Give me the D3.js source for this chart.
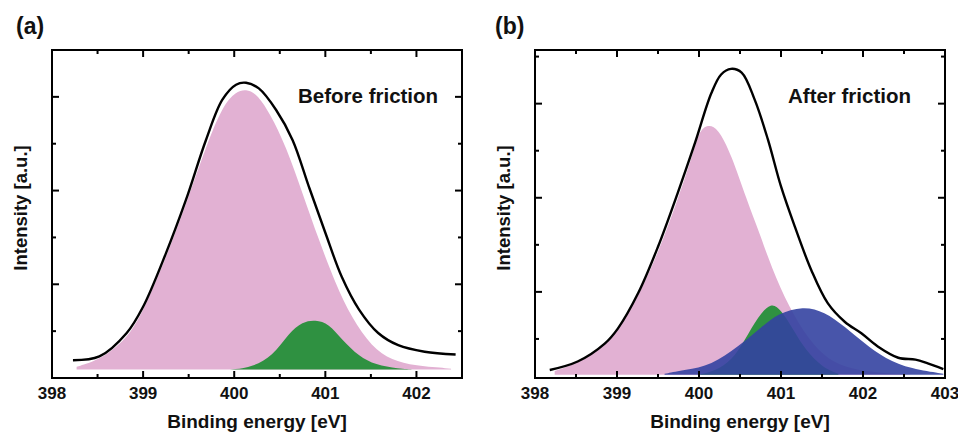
<!DOCTYPE html>
<html>
<head>
<meta charset="utf-8">
<script src="https://cdn.jsdelivr.net/npm/d3@7"></script>
<style>
  body { margin: 0; background: #fff; }
  text { font-family: "Liberation Sans", Arial, sans-serif; font-weight: bold; fill: #111; }
</style>
</head>
<body>
<script>
// XPS N 1s fits, before / after friction
const width = 958, height = 434

// panel (a) : [binding energy, intensity]
const envA = [[398.23,0.19],[398.52,0.23],[398.82,0.48],[399.0,0.76],[399.25,1.33],[399.47,1.90],[399.69,2.54],[399.87,2.97],[400.02,3.13],[400.13,3.15],[400.27,3.09],[400.46,2.86],[400.64,2.54],[400.82,2.04],[401.0,1.55],[401.18,1.08],[401.37,0.73],[401.58,0.48],[401.8,0.35],[402.09,0.28],[402.43,0.25]]
const pinkA = [[398.27,0.12],[398.52,0.19],[398.82,0.41],[399.0,0.71],[399.25,1.28],[399.47,1.85],[399.69,2.47],[399.87,2.90],[400.02,3.06],[400.13,3.08],[400.24,3.04],[400.39,2.83],[400.57,2.47],[400.75,1.97],[400.93,1.47],[401.11,1.01],[401.29,0.64],[401.51,0.33],[401.73,0.19],[401.98,0.13],[402.38,0.1]]
const greenA = [[399.9,0.09],[400.0,0.09],[400.2,0.12],[400.42,0.23],[400.6,0.48],[400.75,0.60],[400.89,0.62],[401.04,0.58],[401.18,0.41],[401.37,0.23],[401.55,0.14],[401.8,0.1],[402.0,0.09]]

// panel (b)
const envB = [[398.18,0.17],[398.52,0.26],[398.85,0.45],[399.01,0.61],[399.26,0.99],[399.5,1.48],[399.74,2.05],[399.95,2.58],[400.15,3.11],[400.27,3.31],[400.39,3.37],[400.52,3.33],[400.68,3.04],[400.84,2.62],[401.0,2.12],[401.17,1.69],[401.37,1.23],[401.57,0.88],[401.78,0.68],[401.98,0.56],[402.18,0.42],[402.43,0.30],[402.64,0.28],[402.79,0.24],[402.98,0.18]]
const pinkB = [[398.24,0.16],[398.52,0.24],[398.85,0.44],[399.01,0.6],[399.26,0.95],[399.5,1.41],[399.74,1.98],[399.91,2.42],[400.0,2.71],[400.11,2.78],[400.23,2.74],[400.39,2.47],[400.58,1.98],[400.74,1.62],[400.88,1.27],[401.1,0.83],[401.34,0.49],[401.57,0.28],[401.85,0.18],[402.18,0.14],[402.6,0.12]]
const greenB = [[400.0,0.12],[400.2,0.16],[400.4,0.27],[400.56,0.49],[400.72,0.74],[400.88,0.89],[401.0,0.81],[401.15,0.6],[401.3,0.38],[401.5,0.2],[401.7,0.13]]
const blueB = [[399.58,0.13],[399.83,0.17],[400.15,0.22],[400.48,0.42],[400.77,0.63],[400.96,0.77],[401.27,0.85],[401.53,0.79],[401.78,0.63],[402.02,0.45],[402.27,0.29],[402.59,0.18],[402.98,0.13]]

const tickVals = [398, 398.5, 399, 399.5, 400, 400.5, 401, 401.5, 402, 402.5, 403]
const yTickVals = [0, 0.5, 1, 1.5, 2, 2.5, 3, 3.5]

const panels = [
  { tag: "(a)", note: "Before friction", left: 52, right: 462, xdom: [398, 402.5], ydom: [0, 3.5], base: 0.09,
    tagX: 16, noteX: 298, labelX: 20,
    fills: [{ d: pinkA, c: "#e2b1d3", o: 1 }, { d: greenA, c: "#2f9141", o: 1 }], env: envA },
  { tag: "(b)", note: "After friction", left: 535, right: 945, xdom: [398, 403], ydom: [0.085, 3.57], base: 0.12,
    tagX: 495, noteX: 788, labelX: 503,
    fills: [{ d: pinkB, c: "#e2b1d3", o: 1 }, { d: greenB, c: "#2f9141", o: 1 }, { d: blueB, c: "#3443a1", o: 0.9 }], env: envB }
]
const plotTop = 50, plotBottom = 378

const svg = d3.select("body").append("svg")
    .attr("width", width)
    .attr("height", height)

panels.forEach(function(p){
  const x = d3.scaleLinear().domain(p.xdom).range([p.left, p.right])
  const y = d3.scaleLinear().domain(p.ydom).range([plotBottom, plotTop])
  const g = svg.append("g")

  const area = d3.area()
      .x(function(d){ return x(d[0]) })
      .y0(y(p.base))
      .y1(function(d){ return y(d[1]) })
      .curve(d3.curveBasis)

  p.fills.forEach(function(f){
    g.append("path")
        .attr("d", area(f.d))
        .style("fill", f.c)
        .style("fill-opacity", f.o)
  })

  g.append("path")
      .attr("d", d3.line()
        .x(function(d){ return x(d[0]) })
        .y(function(d){ return y(d[1]) })
        .curve(d3.curveCatmullRom)(p.env))
      .style("fill", "none")
      .style("stroke", "#000")
      .style("stroke-width", 2.4)

  const xt = tickVals.filter(function(v){ return v >= p.xdom[0] && v <= p.xdom[1] })
  const yt = yTickVals.filter(function(v){ return v > p.ydom[0] && v < p.ydom[1] })
  const tlen = function(v){ return Number.isInteger(v) ? 7 : 4 }

  // ticks on all four sides, pointing in
  g.selectAll(".tb").data(xt).enter().append("line")
      .attr("x1", x).attr("x2", x)
      .attr("y1", plotBottom).attr("y2", function(v){ return plotBottom - tlen(v) })
  g.selectAll(".tt").data(xt).enter().append("line")
      .attr("x1", x).attr("x2", x)
      .attr("y1", plotTop).attr("y2", function(v){ return plotTop + tlen(v) })
  g.selectAll(".tl").data(yt).enter().append("line")
      .attr("y1", y).attr("y2", y)
      .attr("x1", p.left).attr("x2", function(v){ return p.left + tlen(v) })
  g.selectAll(".tr").data(yt).enter().append("line")
      .attr("y1", y).attr("y2", y)
      .attr("x1", p.right).attr("x2", function(v){ return p.right - tlen(v) })
  g.selectAll("line").style("stroke", "#000").style("stroke-width", 2)

  g.append("rect")
      .attr("x", p.left).attr("y", plotTop)
      .attr("width", p.right - p.left).attr("height", plotBottom - plotTop)
      .style("fill", "none").style("stroke", "#000").style("stroke-width", 2)

  g.selectAll(".xl").data(xt.filter(Number.isInteger)).enter().append("text")
      .attr("x", x).attr("y", 399)
      .attr("text-anchor", "middle")
      .style("font-size", "17px")
      .text(function(v){ return v })

  g.append("text")
      .attr("x", (p.left + p.right) / 2).attr("y", 428)
      .attr("text-anchor", "middle")
      .style("font-size", "19px")
      .text("Binding energy [eV]")

  g.append("text")
      .attr("transform", "translate(" + (p.labelX + 7) + "," + ((plotTop + plotBottom) / 2 - 6) + ") rotate(-90)")
      .attr("text-anchor", "middle")
      .style("font-size", "18.5px")
      .text("Intensity [a.u.]")

  g.append("text")
      .attr("x", p.tagX).attr("y", 34)
      .style("font-size", "23px")
      .text(p.tag)

  g.append("text")
      .attr("x", p.noteX).attr("y", 103)
      .style("font-size", "20.5px")
      .text(p.note)
})
</script>
</body>
</html>
